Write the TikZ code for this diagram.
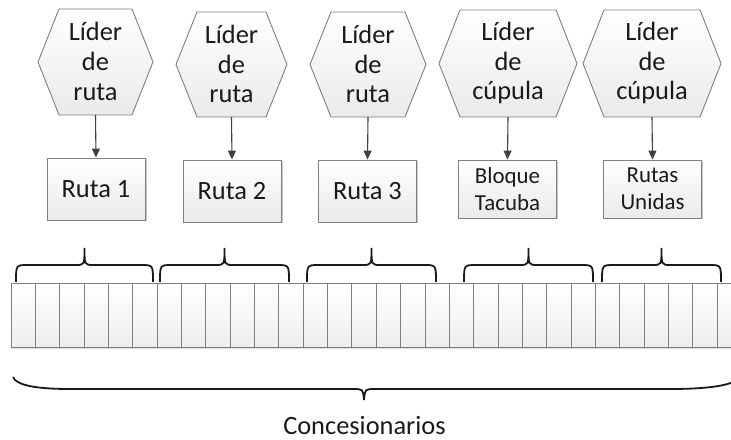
\documentclass[tikz,border=0pt]{standalone}
\usepackage{fontspec}
\setmainfont{Carlito}
\usetikzlibrary{shadows,arrows.meta}
\definecolor{edgegray}{HTML}{7F7F7F}
\definecolor{arrowgray}{HTML}{404040}
\definecolor{fillbot}{HTML}{EAEAEA}
\definecolor{txt}{HTML}{1A1A1A}
\tikzset{
 hexshape/.style={draw=edgegray, line width=0.9bp, top color=white, bottom color=fillbot},
 hextext/.style={align=center, font=\fontsize{26.5}{30}\selectfont, text=txt, inner sep=0pt},
 boxstyle/.style={draw=edgegray, line width=0.9bp, top color=white, bottom color=fillbot,
   minimum width=98bp, inner sep=0pt, text=txt, align=center,
   drop shadow={shadow xshift=1.5bp, shadow yshift=-1.5bp, fill=black, opacity=0.22}},
 bigfont/.style={font=\fontsize{26.5}{30}\selectfont},
 smallfont/.style={font=\fontsize{23}{27}\selectfont},
 link/.style={draw=arrowgray, line width=1.1bp, -{Triangle[length=9bp,width=8bp]}},
 bracestyle/.style={draw=black!90, line width=1.8bp},
 cellline/.style={draw=edgegray, line width=0.9bp},
}
% name, cx, halfwidth, top, bottom, text
\newcommand{\myhex}[6]{%
  \path[hexshape] ({#2-#3},{(#4+#5)/2}) -- ({#2-#3+21},#4) -- ({#2+#3-21},#4)
     -- ({#2+#3},{(#4+#5)/2}) -- ({#2+#3-21},#5) -- ({#2-#3+21},#5) -- cycle;
  \node[hextext] (#1) at (#2,{(#4+#5)/2-0.5}) {#6};
  \coordinate (#1b) at (#2,#5);
}
% x1, x2
\newcommand{\smallbrace}[2]{%
  \draw[bracestyle] (#1,282) .. controls (#1,265) .. ({#1+12},265)
    -- ({(#1+#2)/2-9},265) .. controls ({(#1+#2)/2},265) .. ({(#1+#2)/2},248)
    .. controls ({(#1+#2)/2},265) .. ({(#1+#2)/2+9},265)
    -- ({#2-12},265) .. controls (#2,265) .. (#2,282);
}
\begin{document}
\begin{tikzpicture}[x=1bp,y=-1bp]
\useasboundingbox (0,0) rectangle (731,440);
\clip (0,0) rectangle (731,440);
\fill[white] (0,0) rectangle (731,440);

% hexagons
\myhex{h1}{95.5}{57.5}{9}{115}{Líder\\de\\ruta}
\myhex{h2}{231.5}{55.5}{12}{117}{Líder\\de\\ruta}
\myhex{h3}{368}{58}{12}{117}{Líder\\de\\ruta}
\myhex{h4}{508}{69}{10}{117}{Líder\\de\\cúpula}
\myhex{h5}{652}{69}{10}{117}{Líder\\de\\cúpula}

% boxes
\node[boxstyle, bigfont, minimum height=62bp] (r1) at (96,189) {Ruta 1};
\node[boxstyle, bigfont, minimum height=62bp] (r2) at (232,191) {Ruta 2};
\node[boxstyle, bigfont, minimum height=62bp] (r3) at (367.5,191) {Ruta 3};
\node[boxstyle, smallfont, minimum height=58bp] (r4) at (507.5,189) {Bloque\\Tacuba};
\node[boxstyle, smallfont, minimum height=58bp] (r5) at (652.5,189) {Rutas\\Unidas};

% arrows
\draw[link] (h1b) -- (r1.north);
\draw[link] (h2b) -- (r2.north);
\draw[link] (h3b) -- (r3.north);
\draw[link] (h4b) -- (r4.north);
\draw[link] (h5b) -- (r5.north);

% strip of cells
\fill[black, opacity=0.12] (12,285) rectangle (760,349);
\shade[top color=white, bottom color=black!7] (11,283) rectangle (760,347);
\draw[cellline] (11,283) rectangle (760,347);
\foreach \i in {1,...,30} {
  \draw[cellline] ({11+24.35*\i},283) -- ({11+24.35*\i},347);
}

% small braces
\smallbrace{16}{153}
\smallbrace{160}{289}
\smallbrace{307}{436}
\smallbrace{464}{593}
\smallbrace{602}{721}

% big brace
\draw[bracestyle] (13,377) .. controls (16,385) and (35,389) .. (70,389)
  -- (353,389) .. controls (363,389) .. (364,400)
  .. controls (365,389) .. (375,389)
  -- (670,389) .. controls (705,389) and (735,386) .. (739,377);

\node[bigfont, text=txt, anchor=base] (conc) at (364.5,434) {Concesionarios};
\end{tikzpicture}
\end{document}
